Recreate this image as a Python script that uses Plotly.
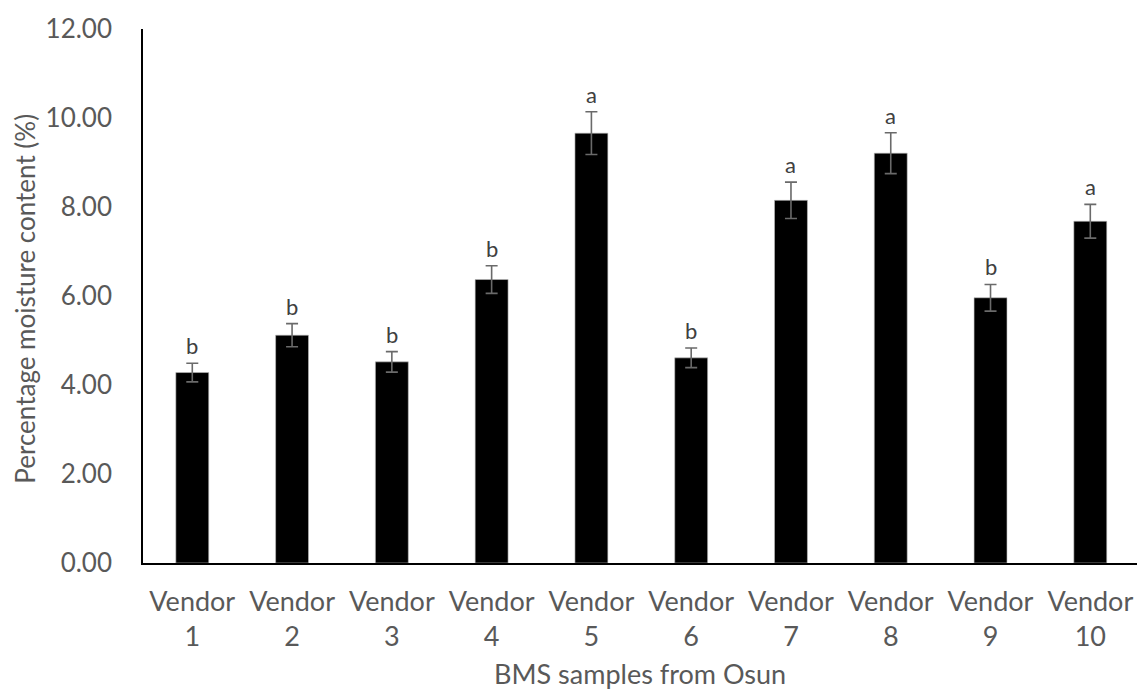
import plotly.graph_objects as go

categories = ["Vendor 1", "Vendor 2", "Vendor 3", "Vendor 4", "Vendor 5",
              "Vendor 6", "Vendor 7", "Vendor 8", "Vendor 9", "Vendor 10"]
moisture = [4.28, 5.12, 4.52, 6.37, 9.66, 4.61, 8.15, 9.21, 5.96, 7.68]
errors = [0.21, 0.26, 0.23, 0.31, 0.48, 0.22, 0.41, 0.46, 0.30, 0.38]
letters = ["b", "b", "b", "b", "a", "b", "a", "a", "b", "a"]
tick_labels = [c.replace(" ", "<br>") for c in categories]

FONT = "Lato"
GREY = "#595959"

fig = go.Figure()
fig.add_trace(go.Bar(
    x=categories, y=moisture,
    width=0.33,
    marker=dict(color="black", line=dict(color="#bfbfbf", width=0.6)),
    error_y=dict(type="data", array=errors, visible=True,
                 color="#6a6a6a", thickness=1.6, width=6),
    showlegend=False,
))

for c, v, e, l in zip(categories, moisture, errors, letters):
    fig.add_annotation(x=c, y=v + e, text=l, showarrow=False,
                       yanchor="bottom", yshift=2,
                       font=dict(family=FONT, size=22, color="#404040"))

fig.add_annotation(xref="paper", yref="paper", x=-0.1187, y=0.495,
                   text="Percentage moisture content (%)", textangle=-90,
                   showarrow=False, xanchor="center", yanchor="middle",
                   font=dict(family=FONT, size=26, color=GREY))
fig.add_annotation(xref="paper", yref="paper", x=0.5, y=-0.206,
                   text="BMS samples from Osun",
                   showarrow=False, xanchor="center", yanchor="middle",
                   font=dict(family=FONT, size=27, color=GREY))

fig.update_layout(
    width=1137, height=695,
    margin=dict(l=143, r=0, t=29, b=132, autoexpand=False),
    paper_bgcolor="white", plot_bgcolor="white",
    font=dict(family=FONT, color=GREY),
)
fig.update_xaxes(
    type="category", range=[-0.494, 9.468], automargin=False,
    tickvals=categories, ticktext=tick_labels,
    showline=True, linecolor="black", linewidth=1.5,
    showgrid=False, ticks="", ticklabelstandoff=14,
    tickfont=dict(family=FONT, size=27, color=GREY),
)
fig.update_yaxes(
    range=[0, 12], dtick=2, tickformat=".2f", automargin=False,
    showline=True, linecolor="black", linewidth=1.5,
    showgrid=False, zeroline=False, ticks="", ticklabelstandoff=24,
    tickfont=dict(family=FONT, size=26, color=GREY),
)

fig.write_html(
    "out.html",
    config={"displayModeBar": False},
    post_script="document.body.style.margin='0';document.body.style.overflow='hidden';",
)
